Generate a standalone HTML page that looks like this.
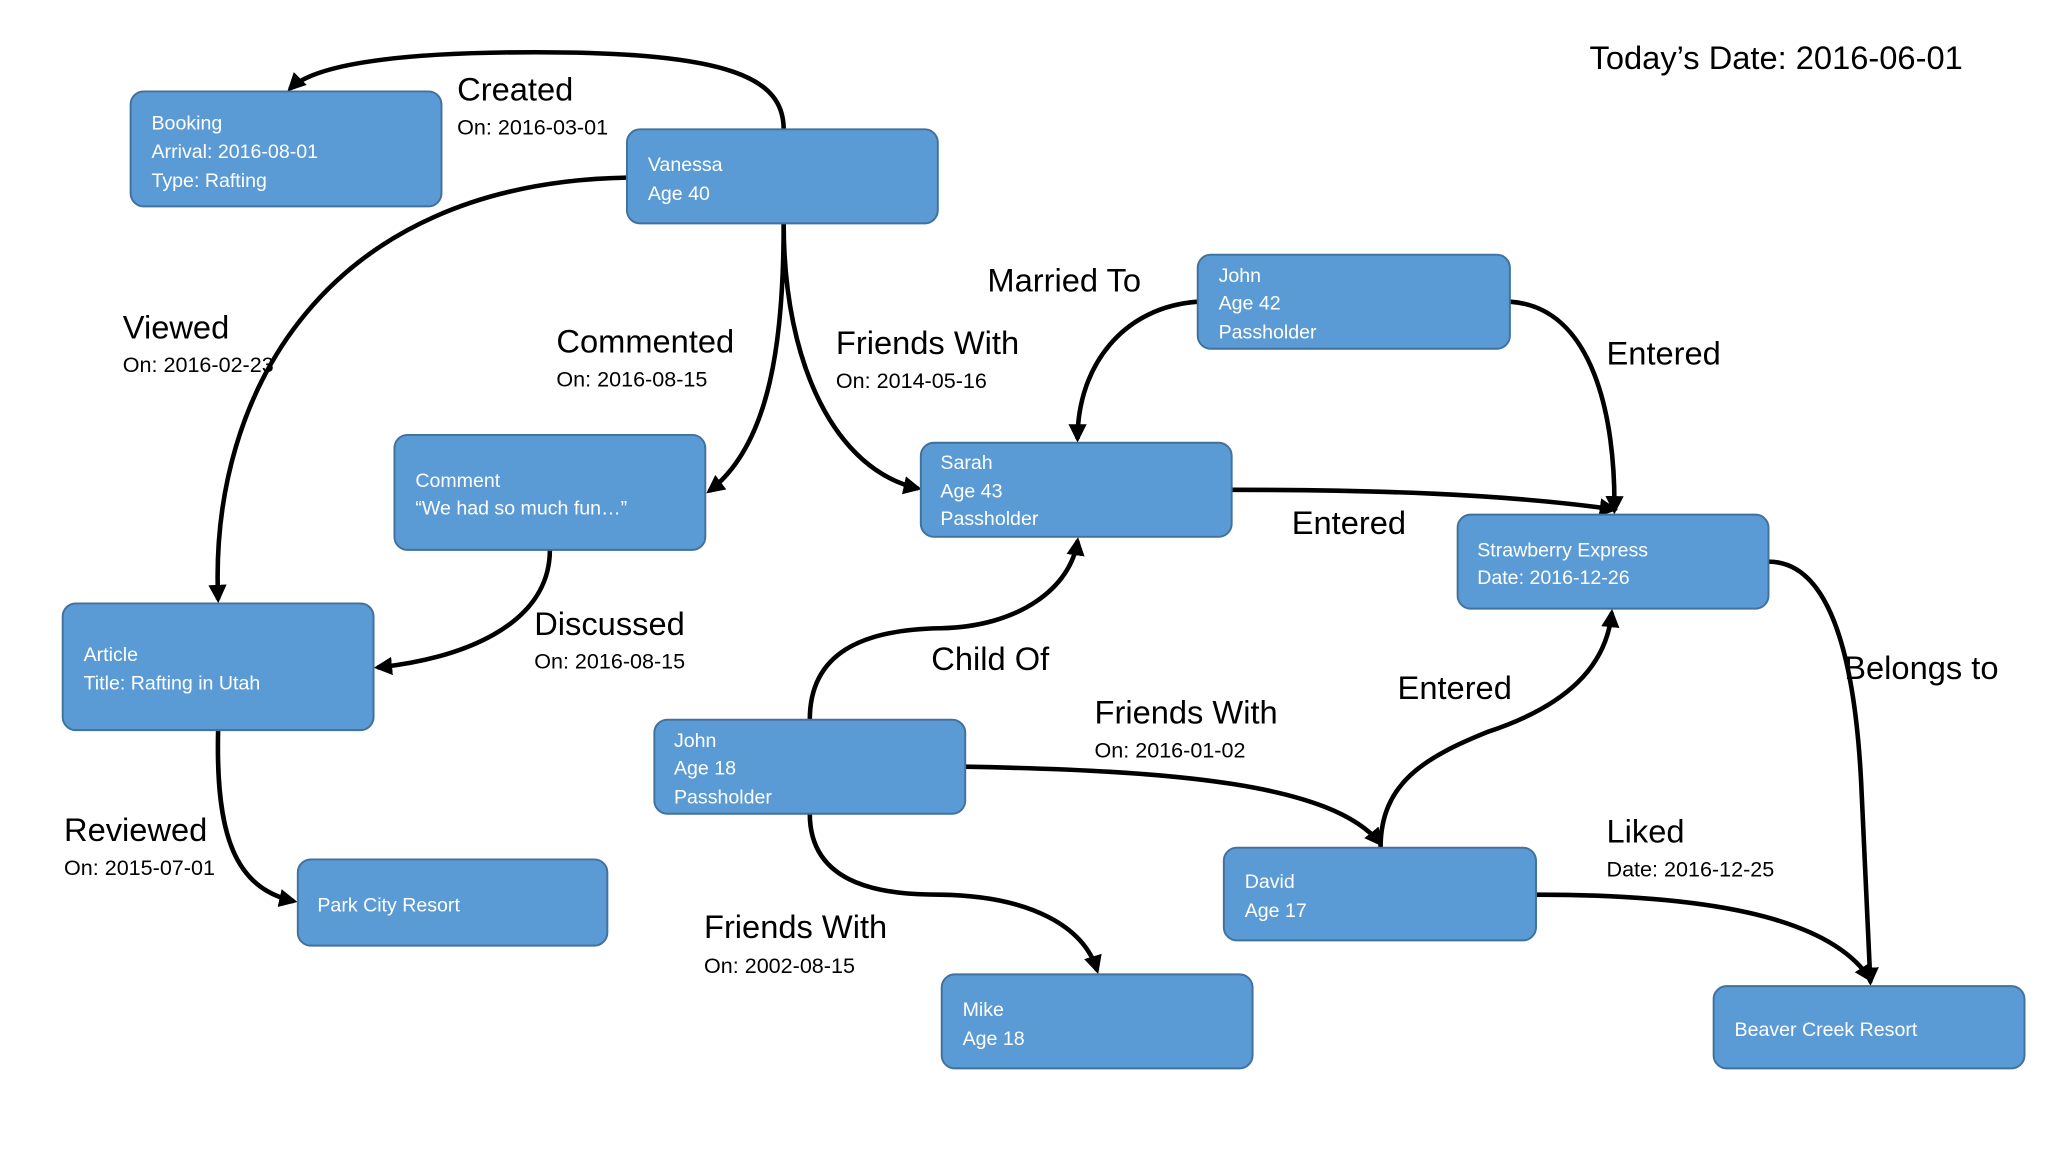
<!DOCTYPE html>
<html><head><meta charset="utf-8"><style>
html,body{margin:0;padding:0;background:#fff;}
svg{display:block}
text{font-family:"Liberation Sans",sans-serif;}
.b{fill:#5b9bd5;stroke:#41719c;stroke-width:1.5}
.t{fill:#fff;font-size:15px}
.l{fill:#000;font-size:25px}
.d{fill:#000;font-size:16.5px}
.e{fill:none;stroke:#000;stroke-width:3.5;marker-end:url(#a)}
</style></head><body>
<svg width="2048" height="1152" viewBox="0 0 1568 882" xmlns="http://www.w3.org/2000/svg">
<defs><marker id="a" viewBox="0 0 10 10" refX="8" refY="5" markerWidth="4" markerHeight="4" orient="auto" markerUnits="strokeWidth"><path d="M0,0 L10,5 L0,10 z" fill="#000"/></marker></defs>
<rect width="1568" height="882" fill="#fff"/>
<text x="1217" y="53" class="l" font-size="26">Today’s Date: 2016-06-01</text>

<path class="e" d="M600,99 C600,60 560,40 410,40 C300,40 240,50 222,68"/>
<path class="e" d="M480,136 C250,140 160,300 167,459"/>
<path class="e" d="M600,171 C600,260 590,340 543,376"/>
<path class="e" d="M600,171 C600,280 640,360 703,374"/>
<path class="e" d="M421,421 C421,480 350,505 289,511"/>
<path class="e" d="M917,231 C860,235 825,280 825,336"/>
<path class="e" d="M1156,231 C1220,235 1237,320 1236,391"/>
<path class="e" d="M943,375 C1050,375 1150,378 1236,390"/>
<path class="e" d="M620,551 C620,500 660,482 720,481 C780,480 820,450 825,414"/>
<path class="e" d="M739,587 C900,590 1020,600 1057,646"/>
<path class="e" d="M620,623 C620,680 680,685 720,685 C790,686 830,710 840,743"/>
<path class="e" d="M1057,649 C1057,600 1090,580 1140,560 C1200,540 1230,510 1234,469"/>
<path class="e" d="M1354,430 C1400,430 1420,500 1425,600 L1432,752"/>
<path class="e" d="M1176,685 C1300,685 1400,700 1432,750"/>
<path class="e" d="M167,559 C165,640 180,680 225,690"/>

<rect class="b" x="100" y="70" width="238" height="88" rx="10"/>
<text class="t" x="116" y="99">Booking</text><text class="t" x="116" y="121">Arrival: 2016-08-01</text><text class="t" x="116" y="143">Type: Rafting</text>
<rect class="b" x="480" y="99" width="238" height="72" rx="10"/>
<text class="t" x="496" y="131">Vanessa</text><text class="t" x="496" y="153">Age 40</text>
<rect class="b" x="917" y="195" width="239" height="72" rx="10"/>
<text class="t" x="933" y="216">John</text><text class="t" x="933" y="237">Age 42</text><text class="t" x="933" y="259">Passholder</text>
<rect class="b" x="302" y="333" width="238" height="88" rx="10"/>
<text class="t" x="318" y="373">Comment</text><text class="t" x="318" y="394">“We had so much fun…”</text>
<rect class="b" x="705" y="339" width="238" height="72" rx="10"/>
<text class="t" x="720" y="359">Sarah</text><text class="t" x="720" y="381">Age 43</text><text class="t" x="720" y="402">Passholder</text>
<rect class="b" x="1116" y="394" width="238" height="72" rx="10"/>
<text class="t" x="1131" y="426">Strawberry Express</text><text class="t" x="1131" y="447">Date: 2016-12-26</text>
<rect class="b" x="48" y="462" width="238" height="97" rx="10"/>
<text class="t" x="64" y="506">Article</text><text class="t" x="64" y="528">Title: Rafting in Utah</text>
<rect class="b" x="501" y="551" width="238" height="72" rx="10"/>
<text class="t" x="516" y="572">John</text><text class="t" x="516" y="593">Age 18</text><text class="t" x="516" y="615">Passholder</text>
<rect class="b" x="228" y="658" width="237" height="66" rx="10"/>
<text class="t" x="243" y="698">Park City Resort</text>
<rect class="b" x="937" y="649" width="239" height="71" rx="10"/>
<text class="t" x="953" y="680">David</text><text class="t" x="953" y="702">Age 17</text>
<rect class="b" x="721" y="746" width="238" height="72" rx="10"/>
<text class="t" x="737" y="778">Mike</text><text class="t" x="737" y="800">Age 18</text>
<rect class="b" x="1312" y="755" width="238" height="63" rx="10"/>
<text class="t" x="1328" y="793">Beaver Creek Resort</text>

<text class="l" x="350" y="77">Created</text><text class="d" x="350" y="103">On: 2016-03-01</text>
<text class="l" x="94" y="259">Viewed</text><text class="d" x="94" y="285">On: 2016-02-23</text>
<text class="l" x="426" y="270">Commented</text><text class="d" x="426" y="296">On: 2016-08-15</text>
<text class="l" x="640" y="271">Friends With</text><text class="d" x="640" y="297">On: 2014-05-16</text>
<text class="l" x="756" y="223">Married To</text>
<text class="l" x="1230" y="279">Entered</text>
<text class="l" x="989" y="409">Entered</text>
<text class="l" x="409" y="486">Discussed</text><text class="d" x="409" y="512">On: 2016-08-15</text>
<text class="l" x="713" y="513">Child Of</text>
<text class="l" x="1070" y="535">Entered</text>
<text class="l" x="1412" y="520">Belongs to</text>
<text class="l" x="838" y="554">Friends With</text><text class="d" x="838" y="580">On: 2016-01-02</text>
<text class="l" x="49" y="644">Reviewed</text><text class="d" x="49" y="670">On: 2015-07-01</text>
<text class="l" x="1230" y="645">Liked</text><text class="d" x="1230" y="671">Date: 2016-12-25</text>
<text class="l" x="539" y="718">Friends With</text><text class="d" x="539" y="745">On: 2002-08-15</text>
</svg>
</body></html>
